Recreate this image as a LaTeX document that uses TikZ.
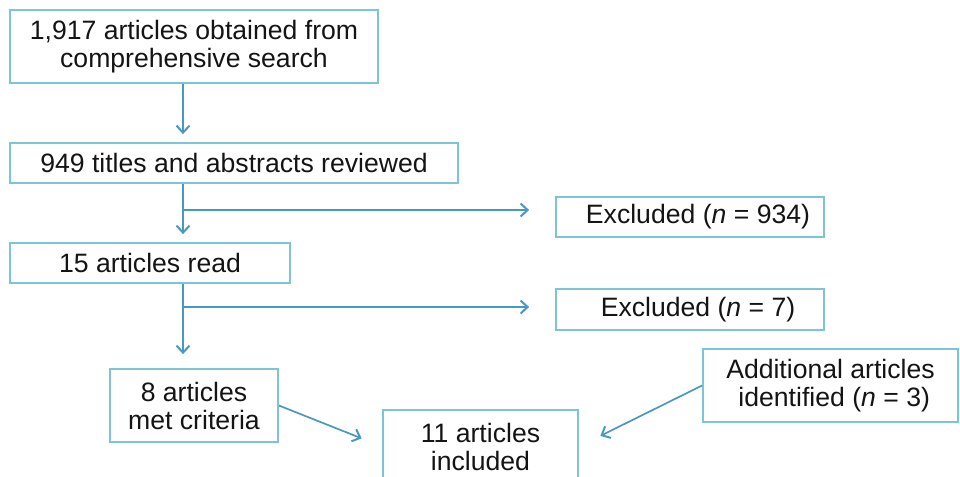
\documentclass[tikz,border=0pt]{standalone}
\usepackage{fontspec}
\setmainfont{Liberation Sans}
\usepackage{tikz}
\usetikzlibrary{arrows.meta, positioning, calc}

\definecolor{boxline}{RGB}{125,196,216}
\definecolor{flowline}{RGB}{72,152,192}
\definecolor{ink}{RGB}{20,20,20}

\begin{document}
\begin{tikzpicture}[
  x=0.5pt, y=-0.5pt,
  stage/.style={rectangle, draw=boxline, line width=0.9pt, align=center, inner sep=0pt,
    text=ink, font=\fontsize{13.3}{14}\selectfont},
  flow/.style={draw=flowline, line width=0.85pt, -{Straight Barb[length=3.5pt, width=6.5pt, line width=1pt]}}
]
  \clip (0,0) rectangle (960,477);
  \useasboundingbox (0,0) rectangle (960,477);

  \node[stage, minimum width=184pt, minimum height=36.5pt] (search) at (194,46.5)
    {1,917 articles obtained from\\comprehensive search};
  \node[stage, minimum width=224pt, minimum height=20pt] (titles) at (234,163)
    {949 titles and abstracts reviewed};
  \node[stage, minimum width=134pt, minimum height=20pt] (excla) at (690,217)
    {\hspace*{8pt}Excluded (\textit{n} = 934)};
  \node[stage, minimum width=140pt, minimum height=20pt] (read) at (150,263)
    {15 articles read};
  \node[stage, minimum width=134pt, minimum height=20.5pt] (exclb) at (690,309.5)
    {\hspace*{8pt}Excluded (\textit{n} = 7)};
  \node[stage, minimum width=84pt, minimum height=36.5pt] (met) at (194,405.5)
    {8 articles\\met criteria};
  \node[stage, minimum width=97.5pt, minimum height=36.5pt] (included) at (480.5,446.5)
    {11 articles\\included};
  \node[stage, minimum width=127.5pt, minimum height=36.5pt] (addl) at (830.5,385.5)
    {Additional articles\\\ identified (\textit{n} = 3)};

  \coordinate (spine) at (183,0);
  \coordinate (bra) at (183,210);
  \coordinate (brb) at (183,307);

  \draw[flow, shorten >=4pt] (search.south -| spine) -- (titles.north -| spine);
  \draw[flow, shorten >=4pt] (titles.south -| spine) -- (read.north -| spine);
  \draw[flow, shorten >=13pt] (bra) -- (bra -| excla.west);
  \draw[flow, shorten >=7pt] (read.south -| spine) -- (met.north -| spine);
  \draw[flow, shorten >=13pt] (brb) -- (brb -| exclb.west);
  \draw[flow, shorten >=11pt] (met.east) -- (included.west);
  \draw[flow, shorten >=12pt] (addl.west) -- (included.east);
\end{tikzpicture}
\end{document}
